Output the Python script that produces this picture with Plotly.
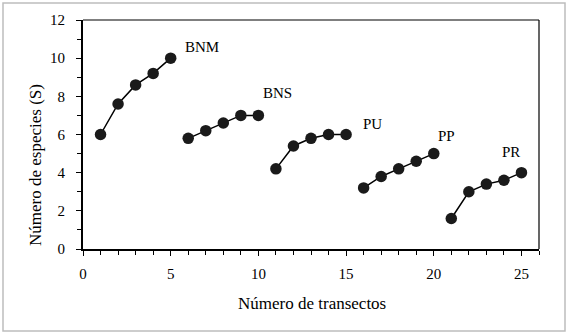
import plotly.graph_objects as go

sites = ["BNM", "BNS", "PU", "PP", "PR"]
transects = [[1, 2, 3, 4, 5], [6, 7, 8, 9, 10], [11, 12, 13, 14, 15], [16, 17, 18, 19, 20], [21, 22, 23, 24, 25]]
species = [[6, 7.6, 8.6, 9.2, 10], [5.8, 6.2, 6.6, 7, 7], [4.2, 5.4, 5.8, 6, 6], [3.2, 3.8, 4.2, 4.6, 5], [1.6, 3, 3.4, 3.6, 4]]
label_x = [6.8, 11.1, 16.5, 20.7, 24.4]
label_y = [10.6, 8.2, 6.55, 5.9, 5.1]
x_title = "Número de transectos"
y_title = "Número de especies (S)"

W, H = 568, 336
L, R, T, B = 83, 29, 20, 87
pw, ph = W - L - R, H - T - B
FONT = "Liberation Serif"

def px(x):
    return (x - L) / pw
def py(y):
    return (H - B - y) / ph

fig = go.Figure()
for s, xs, ys in zip(sites, transects, species):
    fig.add_trace(go.Scatter(x=xs, y=ys, mode="lines+markers", name=s,
                             line=dict(color="#000000", width=1.5),
                             marker=dict(size=11.5, color="#1a1a1a")))

for s, lx, ly in zip(sites, label_x, label_y):
    fig.add_annotation(x=lx, y=ly, text=s, showarrow=False,
                       font=dict(family=FONT, size=15, color="#000"))

fig.add_annotation(xref="paper", yref="paper", x=px(312), y=py(303), text=x_title,
                   showarrow=False, xanchor="center", yanchor="middle",
                   font=dict(family=FONT, size=17, color="#000"))
fig.add_annotation(xref="paper", yref="paper", x=px(35), y=py(165), text=y_title,
                   showarrow=False, xanchor="center", yanchor="middle", textangle=-90,
                   font=dict(family=FONT, size=17, color="#000"))

fig.add_shape(type="rect", xref="paper", yref="paper",
              x0=px(3), x1=px(565), y0=py(3), y1=py(331),
              line=dict(color="#bdbdbd", width=1.5), layer="below")

fig.update_layout(
    width=W, height=H, margin=dict(l=L, r=R, t=T, b=B, autoexpand=False),
    paper_bgcolor="white", plot_bgcolor="white", showlegend=False,
    font=dict(family=FONT, size=15, color="#000"),
    xaxis=dict(range=[0, 26], tickmode="array", tickvals=[0, 5, 10, 15, 20, 25],
               ticks="outside", ticklen=5, tickcolor="#000", automargin=False,
               minor=dict(dtick=1, tick0=0, ticks="outside", ticklen=4, tickcolor="#000"),
               showline=True, linecolor="#000", linewidth=2, mirror=False,
               showgrid=False, zeroline=False, ticklabelstandoff=5),
    yaxis=dict(range=[0, 12], tickmode="array", tickvals=[0, 2, 4, 6, 8, 10, 12],
               ticks="outside", ticklen=5, tickcolor="#000", automargin=False,
               minor=dict(dtick=1, tick0=0, ticks="outside", ticklen=4, tickcolor="#000"),
               showline=True, linecolor="#000", linewidth=2, mirror=False,
               showgrid=False, zeroline=False, ticklabelstandoff=8),
)
fig.add_shape(type="line", xref="paper", yref="paper", x0=0, x1=1, y0=1, y1=1,
              line=dict(color="#000", width=1.2))
fig.add_shape(type="line", xref="paper", yref="paper", x0=1, x1=1, y0=0, y1=1,
              line=dict(color="#000", width=1.2))

fig.write_html("out.html", config={"displayModeBar": False},
               post_script="document.body.style.margin='0px';document.body.style.overflow='hidden';")
